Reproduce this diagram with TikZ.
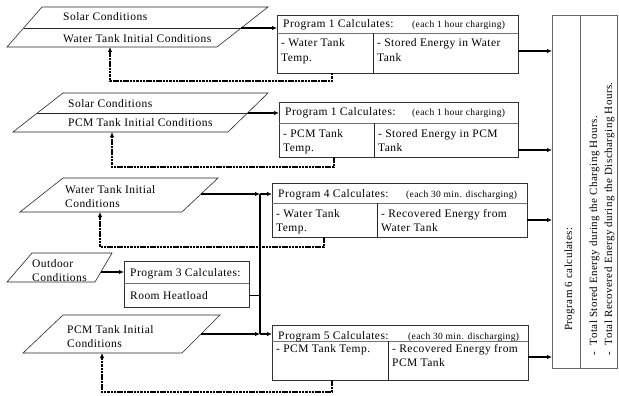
\documentclass[tikz,border=0pt]{standalone}
\usepackage{fontspec}
\setmainfont{Liberation Serif}[LetterSpace=4]
\usetikzlibrary{arrows.meta}
\newcommand\mfont{\fontsize{11.5}{13}\selectfont}
\newcommand\rfont{\fontsize{11}{13}\selectfont}
\newcommand\sfont{\fontsize{9.5}{11}\selectfont}
\begin{document}
\begin{tikzpicture}[x=1pt,y=-1pt,
  box/.style={draw=black!80, line width=0.7pt, inner sep=0pt, anchor=north west},
  hline/.style={draw=black!55, line width=0.7pt},
  vline/.style={draw=black!85, line width=0.7pt},
  txt/.style={anchor=base west, inner sep=0pt, font=\mfont},
  small/.style={anchor=base west, inner sep=0pt, font=\sfont},
  rtxt/.style={anchor=base west, inner sep=0pt, font=\rfont, rotate=90},
  para/.style={draw=black!85, line width=0.6pt},
  arr/.style={line width=1.2pt, -{Latex[length=5pt,width=4.5pt]}},
  fb/.style={line width=1.7pt, dash pattern=on 2.5pt off 0.8pt, -{Latex[length=5pt,width=4.5pt]}}]
\useasboundingbox (0,0) rectangle (619,396);

% ---------- parallelograms ----------
\draw[para] (42,7)--(268,7)--(217,47)--(7,47)--cycle;
\draw[para] (23.6,28)--(241.2,28);
\coordinate (p1out) at (241.2,28);
\coordinate (p1in) at (110,47);
\node[txt] (p1a) at (63,21) {Solar Conditions};
\node[txt] (p1b) at (63,43) {Water Tank Initial Conditions};

\draw[para] (63,93)--(268,93)--(228,132)--(13,132)--cycle;
\draw[para] (37.4,113)--(247.5,113);
\coordinate (p2out) at (247.5,113);
\coordinate (p2in) at (112,132);
\node[txt] (p2a) at (68,107) {Solar Conditions};
\node[txt] (p2b) at (68,127) {PCM Tank Initial Conditions};

\draw[para] (63,178)--(218,178)--(182,212)--(20,212)--cycle;
\coordinate (p3out) at (201,194);
\coordinate (p3in) at (100,212);
\node[txt] (p3a) at (65,193) {Water Tank Initial};
\node[txt] (p3b) at (65,207) {Conditions};

\draw[para] (32,253)--(112,253)--(95,282)--(7,282)--cycle;
\coordinate (p4out) at (101,272);
\node[txt] (p4a) at (32,267) {Outdoor};
\node[txt] (p4b) at (32,281) {Conditions};

\draw[para] (63,315)--(220,315)--(182,353)--(23,353)--cycle;
\coordinate (p5out) at (201,334);
\coordinate (p5in) at (102,353);
\node[txt] (p5a) at (67,333) {PCM Tank Initial};
\node[txt] (p5b) at (67,347) {Conditions};

% ---------- boxes ----------
\node[box, minimum width=241pt, minimum height=58pt] (b1) at (277,15) {};
\draw[hline] (277,33) -- (518,33);
\draw[vline] (373,33) -- (373,73);
\node[txt] (b1h) at (283,28) {Program 1 Calculates:};
\node[small] (b1s) at (412,28) {(each 1 hour charging)};
\node[txt] (b1a) at (281,47) {- Water Tank};
\node[txt] (b1b) at (281,62) {Temp.};
\node[txt] (b1c) at (377,47) {- Stored Energy in Water};
\node[txt] (b1d) at (377,62) {Tank};

\node[box, minimum width=239pt, minimum height=55pt] (b2) at (279,102) {};
\draw[hline] (279,123) -- (518,123);
\draw[vline] (374,123) -- (374,157);
\node[txt] (b2h) at (285,116) {Program 1 Calculates:};
\node[small] (b2s) at (412,116) {(each 1 hour charging)};
\node[txt] (b2a) at (283,137) {- PCM Tank};
\node[txt] (b2b) at (283,151) {Temp.};
\node[txt] (b2c) at (378,137) {- Stored Energy in PCM};
\node[txt] (b2d) at (378,151) {Tank};

\node[box, minimum width=255pt, minimum height=54pt] (b4) at (272,183) {};
\draw[hline] (272,203) -- (527,203);
\draw[vline] (377,203) -- (377,237);
\node[txt] (b4h) at (278,197) {Program 4 Calculates:};
\node[small] (b4s) at (406,197) {(each 30 min. discharging)};
\node[txt] (b4a) at (276,217) {- Water Tank};
\node[txt] (b4b) at (276,231) {Temp.};
\node[txt] (b4c) at (381,217) {- Recovered Energy from};
\node[txt] (b4d) at (381,231) {Water Tank};

\node[box, minimum width=125pt, minimum height=46pt] (b3) at (124,261) {};
\draw[hline] (124,283) -- (249,283);
\node[txt] (b3h) at (130,276) {Program 3 Calculates:};
\node[txt] (b3a) at (130,299) {Room Heatload};

\node[box, minimum width=256pt, minimum height=55pt] (b5) at (272,325) {};
\draw[hline] (272,341) -- (528,341);
\draw[vline] (388,341) -- (388,380);
\node[txt] (b5h) at (278,339) {Program 5 Calculates:};
\node[small] (b5s) at (408,339) {(each 30 min. discharging)};
\node[txt] (b5a) at (276,352) {- PCM Tank Temp.};
\node[txt] (b5c) at (392,352) {- Recovered Energy from};
\node[txt] (b5d) at (392,366) {PCM Tank};

\node[box, draw=black!60, minimum width=65pt, minimum height=353pt] (b6) at (552,15) {};
\draw[draw=black!60, line width=0.7pt] (580,15) -- (580,368);
\node[rtxt] (b6h) at (572,331) {Program 6 calculates:};
\node[rtxt] (b6a) at (597,356) {-\hspace{7pt}Total Stored Energy during the Charging Hours.};
\node[rtxt] (b6b) at (612,356) {-\hspace{7pt}Total Recovered Energy during the Discharging Hours.};

% ---------- connectors ----------
\draw[arr] (p1out) -- (p1out -| b1.west);
\draw[arr] (p2out) -- (p2out -| b2.west);
\coordinate (b1o) at (518,51);
\coordinate (b2o) at (518,150);
\coordinate (b4o) at (527,220);
\coordinate (b5o) at (528,357);
\draw[arr] (b1o) -- (b1o -| b6.west);
\draw[arr] (b2o) -- (b2o -| b6.west);
\draw[arr] (b4o) -- (b4o -| b6.west);
\draw[arr] (b5o) -- (b5o -| b6.west);

\coordinate (J1) at (260,194);
\coordinate (J2) at (260,334);
\coordinate (J3) at (260,295);
\coordinate (b3o) at (249,295);
\draw[line width=1.6pt] (J1) -- (J2);
\draw[line width=0.9pt] (b3o) -- (J3);
\draw[arr] (p3out) -- (J1);
\draw[arr] (J1) -- (J1 -| b4.west);
\draw[arr] (p5out) -- (J2);
\draw[arr] (J2) -- (J2 -| b5.west);
\draw[arr] (p4out) -- (p4out -| b3.west);

% ---------- feedback ----------
\coordinate (f1) at (332,73);
\coordinate (f2) at (334,157);
\coordinate (f4) at (324,237);
\coordinate (f5) at (332,380);
\draw[fb] (f1) -- ++(0,8) -| (p1in);
\draw[fb] (f2) -- ++(0,10) -| (p2in);
\draw[fb] (f4) -- ++(0,10) -| (p3in);
\draw[fb] (f5) -- ++(0,12) -| (p5in);
\end{tikzpicture}
\end{document}
